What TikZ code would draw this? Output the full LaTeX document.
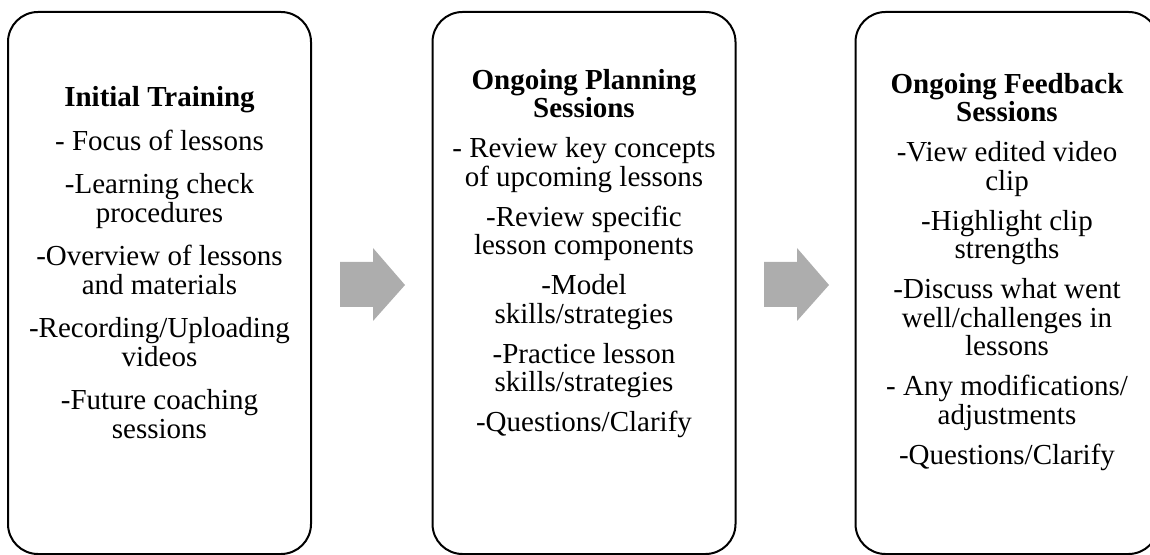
\documentclass[tikz,border=0pt]{standalone}
\usepackage{fontspec}
\setmainfont{Liberation Serif}
\usepackage{tikz}
\usetikzlibrary{positioning}

\definecolor{arrowgray}{gray}{0.68}

\begin{document}
\begin{tikzpicture}[x=0.5pt, y=-0.5pt,
    stage/.style={draw, line width=1pt, rounded corners=15pt, minimum width=151.5pt, minimum height=271pt, inner sep=0pt},
    stagetext/.style={anchor=north, align=center, inner sep=0pt, font=\fontsize{14.5pt}{14.25pt}\selectfont},
    pointer/.style={fill=arrowgray}]

\clip (0,0) rectangle (1150,555);

\node[stage] (train) at (159.5,283) {};
\node[stage] (plan) at (584,283) {};
\node[stage] (feed) at (1007,283) {};

\node[stagetext] (trainText) at (159.5,86) {\textbf{Initial Training}\\[7.5pt]
    - Focus of lessons\\[7.5pt]
    -Learning check\\ procedures\\[7.5pt]
    -Overview of lessons\\ and materials\\[7.5pt]
    -Recording/Uploading\\ videos\\[7.5pt]
    -Future coaching\\ sessions};

\node[stagetext] (planText) at (584,68.5) {\textbf{Ongoing Planning}\\ \textbf{Sessions}\\[5.75pt]
    - Review key concepts\\ of upcoming lessons\\[5.75pt]
    -Review specific\\ lesson components\\[5.75pt]
    -Model\\ skills/strategies\\[5.75pt]
    -Practice lesson\\ skills/strategies\\[5.75pt]
    -Questions/Clarify};

\node[stagetext] (feedText) at (1007,72.5) {\textbf{Ongoing Feedback}\\ \textbf{Sessions}\\[5.75pt]
    -View edited video\\ clip\\[5.75pt]
    -Highlight clip\\ strengths\\[5.75pt]
    -Discuss what went\\ well/challenges in\\ lessons\\[5.75pt]
    - Any modifications/\\ adjustments\\[5.75pt]
    -Questions/Clarify};

% block arrows between the stages
\foreach \ax in {340,764}
    \fill[pointer] (\ax,262) -- ++(33,0) -- ++(0,-14) -- (\ax+65,285) -- (\ax+33,321) -- ++(0,-14) -- (\ax,307) -- cycle;

\end{tikzpicture}
\end{document}
